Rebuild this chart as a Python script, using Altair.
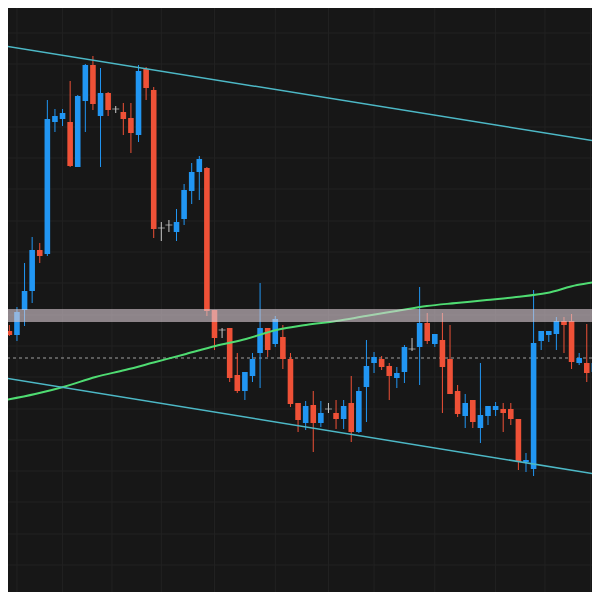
import altair as alt
import pandas as pd

# ---- candle data (price units) ----
opens  = [269, 265, 290, 309, 350, 346, 478, 481, 478, 433,
          499, 535, 484, 507, 491, 488, 482, 465, 531, 510,
          372, 375, 368, 381, 409, 428, 432, 290, 270, 272,
          225, 209, 224, 247, 272, 256, 263, 241, 197, 177,
          195, 177, 191, 187, 181, 197, 168, 213, 237, 241,
          234, 222, 228, 251, 253, 277, 256, 260, 241, 209,
          184, 200, 172, 184, 190, 191, 191, 181, 138, 131,
          259, 265, 266, 279, 279, 237, 237, 228]
highs  = [275, 293, 337, 363, 357, 500, 491, 491, 519, 505,
          536, 544, 532, 508, 494, 497, 497, 535, 533, 513,
          378, 380, 391, 416, 437, 444, 433, 290, 272, 272,
          247, 228, 247, 317, 272, 284, 275, 247, 197, 199,
          209, 199, 197, 200, 200, 224, 213, 260, 248, 244,
          237, 233, 255, 262, 313, 287, 266, 287, 275, 215,
          206, 200, 237, 194, 198, 197, 197, 181, 147, 310,
          269, 269, 283, 283, 286, 247, 276, 240]
lows   = [264, 259, 274, 297, 337, 344, 468, 474, 433, 433,
          468, 490, 433, 484, 487, 465, 447, 458, 500, 362,
          359, 368, 359, 375, 396, 400, 284, 250, 262, 218,
          207, 200, 218, 212, 243, 253, 231, 193, 168, 170,
          148, 173, 187, 171, 171, 158, 167, 178, 227, 230,
          200, 212, 217, 249, 215, 256, 253, 187, 206, 183,
          172, 172, 157, 175, 184, 168, 175, 130, 128, 124,
          250, 258, 250, 247, 231, 235, 218, 225]
closes = [265, 288, 309, 350, 344, 481, 484, 487, 434, 504,
          535, 496, 507, 490, 491, 481, 467, 529, 512, 371,
          372, 375, 378, 410, 428, 441, 289, 262, 270, 222,
          209, 228, 241, 272, 250, 281, 241, 196, 180, 194,
          177, 187, 191, 181, 194, 168, 209, 234, 243, 233,
          224, 227, 253, 251, 277, 259, 266, 233, 206, 186,
          197, 178, 185, 194, 194, 187, 181, 138, 140, 257,
          269, 269, 279, 275, 238, 242, 227, 237]

# ---- moving average (sampled points) ----
ma_index = [-0.56, 3.4, 7.33, 11.35, 15.23, 19.24, 23.25, 27.13, 31.14, 35.15,
            39.03, 43.04, 46.92, 50.93, 54.94, 58.82, 62.83, 66.71, 70.72, 74.73, 77.06]
ma_price = [200, 206, 213.5, 223, 230, 238, 246, 254, 261, 270,
            275, 279, 284, 289, 294, 297, 300, 303, 307, 315, 318]

# ---- channel trend lines ----
trend_name  = ["upper", "upper", "lower", "lower"]
trend_index = [-0.56, 77.06, -0.56, 77.06]
trend_price = [554, 459, 222, 126]

# ---- levels ----
band_low, band_high = 278, 291
dashed_level = 242

grid_prices = [567, 536, 505, 473, 442, 411, 379, 348, 317, 285,
               254, 223, 191, 160, 129, 98, 66, 35]
grid_index = [1, 7, 13.5, 20, 27, 35, 42, 48, 56, 64, 70.5, 76.5]

BLUE = "#2196f3"
RED = "#ef5137"
GRAY = "#c8c8c8"
BG = "#171717"

n = len(opens)
df = pd.DataFrame({"i": list(range(n)), "open": opens, "high": highs,
                   "low": lows, "close": closes})
df["dir"] = ["up" if c > o else ("down" if c < o else "flat")
             for o, c in zip(opens, closes)]

W = 584
H = 584
X = alt.Scale(domain=[0.479, 76.03], nice=False, zero=False)
Y = alt.Scale(domain=[8, 592], nice=False, zero=False)
color = alt.Color("dir:N", scale=alt.Scale(domain=["up", "down", "flat"],
                                           range=[BLUE, RED, GRAY]), legend=None)

gy = alt.Chart(pd.DataFrame({"p": grid_prices})).mark_rule(
    color="#222222", strokeWidth=1).encode(y=alt.Y("p:Q", scale=Y, axis=None))
gx = alt.Chart(pd.DataFrame({"g": grid_index})).mark_rule(
    color="#222222", strokeWidth=1, clip=True).encode(x=alt.X("g:Q", scale=X, axis=None))

dash = alt.Chart(pd.DataFrame({"p": [dashed_level]})).mark_rule(
    color="#a0a0a0", strokeWidth=1, strokeDash=[3, 3]).encode(
    y=alt.Y("p:Q", scale=Y, axis=None))

base = alt.Chart(df)
xe = alt.X("i:Q", scale=X, axis=None)
wicks = base.mark_rule(strokeWidth=1, clip=True).encode(
    x=xe, y=alt.Y("low:Q", scale=Y, axis=None), y2="high:Q", color=color)
bodies = base.mark_bar(size=5.6, clip=True).encode(
    x=xe, y=alt.Y("open:Q", scale=Y, axis=None), y2="close:Q", color=color)
doji = base.transform_filter("datum.open == datum.close").mark_tick(
    orient="horizontal", size=7, thickness=1, clip=True).encode(
    x=xe, y=alt.Y("close:Q", scale=Y, axis=None), color=color)

trend = alt.Chart(pd.DataFrame({"name": trend_name, "x": trend_index, "p": trend_price})).mark_line(
    color="#4db8c6", strokeWidth=1.5, clip=True).encode(
    x=alt.X("x:Q", scale=X, axis=None), y=alt.Y("p:Q", scale=Y, axis=None), detail="name:N")

ma = alt.Chart(pd.DataFrame({"x": ma_index, "p": ma_price})).mark_line(
    color="#4fdc72", strokeWidth=2, clip=True, interpolate="monotone").encode(
    x=alt.X("x:Q", scale=X, axis=None), y=alt.Y("p:Q", scale=Y, axis=None))

band = alt.Chart(pd.DataFrame({"lo": [band_low], "hi": [band_high]})).mark_rect(
    color="#dccdd6", opacity=0.6).encode(
    x=alt.value(0), x2=alt.value(W), y=alt.Y("lo:Q", scale=Y, axis=None), y2="hi:Q")

chart = alt.layer(gy, gx, dash, wicks, bodies, doji, ma, trend, band).properties(
    width=W, height=H, padding=0, background=BG,
    autosize=alt.AutoSizeParams(type="none")
).configure_view(strokeWidth=0)

chart.save("out.html", embed_options={"renderer": "svg", "actions": False})
